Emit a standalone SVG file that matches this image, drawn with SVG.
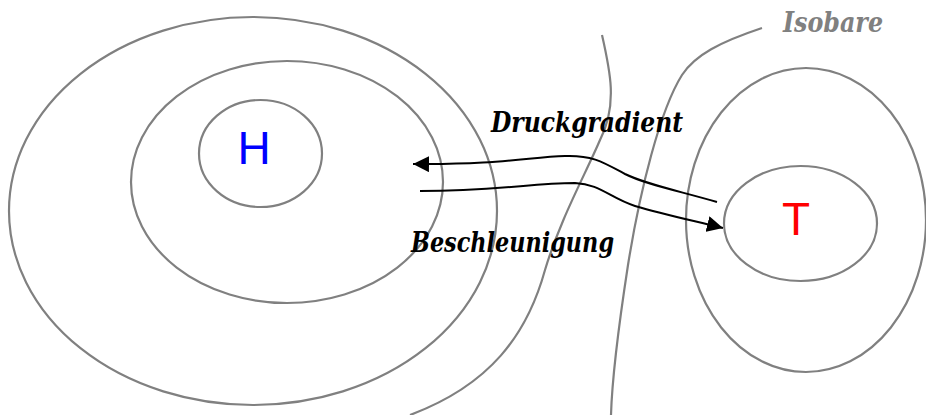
<svg xmlns="http://www.w3.org/2000/svg" width="926" height="415" viewBox="0 0 926 415">
<defs>
<style>
.iso{fill:none;stroke:#808080;stroke-width:2.2}
.arr{fill:none;stroke:#000;stroke-width:2}
.lbl{font-family:"DejaVu Serif Condensed","DejaVu Serif","Liberation Serif",serif;font-weight:bold;font-style:italic;font-size:28px}
.big{font-family:"Liberation Sans",Arial,sans-serif;font-size:46px;text-anchor:middle}
</style>
<marker id="ah" markerUnits="userSpaceOnUse" markerWidth="18" markerHeight="16" refX="16" refY="8" orient="auto">
<path d="M0,0 L16,8 L0,16 Z" fill="#000"/>
</marker>
</defs>
<rect width="926" height="415" fill="#fff"/>
<g id="high">
<ellipse class="iso" cx="253" cy="211" rx="244" ry="194"/>
<ellipse class="iso" cx="287" cy="182" rx="156" ry="121"/>
<ellipse class="iso" cx="260.5" cy="153.5" rx="61.5" ry="53.5"/>
<text class="big" x="254" y="164" fill="#0000ff">H</text>
</g>
<g id="low">
<ellipse class="iso" cx="806" cy="220" rx="120" ry="152"/>
<ellipse class="iso" cx="800.5" cy="223.5" rx="76.5" ry="57.5"/>
<text class="big" x="796" y="235" fill="#ff0000">T</text>
</g>
<g id="isobars">
<path class="iso" d="M602,35 C610,70 618,105 600,140 C585,175 560,220 545,270 C527,335 490,385 410,415"/>
<path class="iso" d="M762,28 C720,42 695,55 682,75 C660,110 640,190 628,265 C618,330 612,380 611,415"/>
<text class="lbl" x="783" y="32" fill="#808080" textLength="100" lengthAdjust="spacingAndGlyphs">Isobare</text>
</g>
<g id="connectors">
<path class="arr" d="M717,202 C675,190 645,184 625,174 C603,162 592,155 565,156 C530,157 500,165 413,164" marker-end="url(#ah)"/>
<path class="arr" d="M420,191 C500,191 530,183 575,183 C600,184 610,198 635,206 C665,215 695,221 723,228" marker-end="url(#ah)"/>
</g>
<g id="labels">
<text class="lbl" x="491" y="132" fill="#000" textLength="192" lengthAdjust="spacingAndGlyphs">Druckgradient</text>
<text class="lbl" x="411" y="252" fill="#000" textLength="203" lengthAdjust="spacingAndGlyphs">Beschleunigung</text>
</g>
</svg>
